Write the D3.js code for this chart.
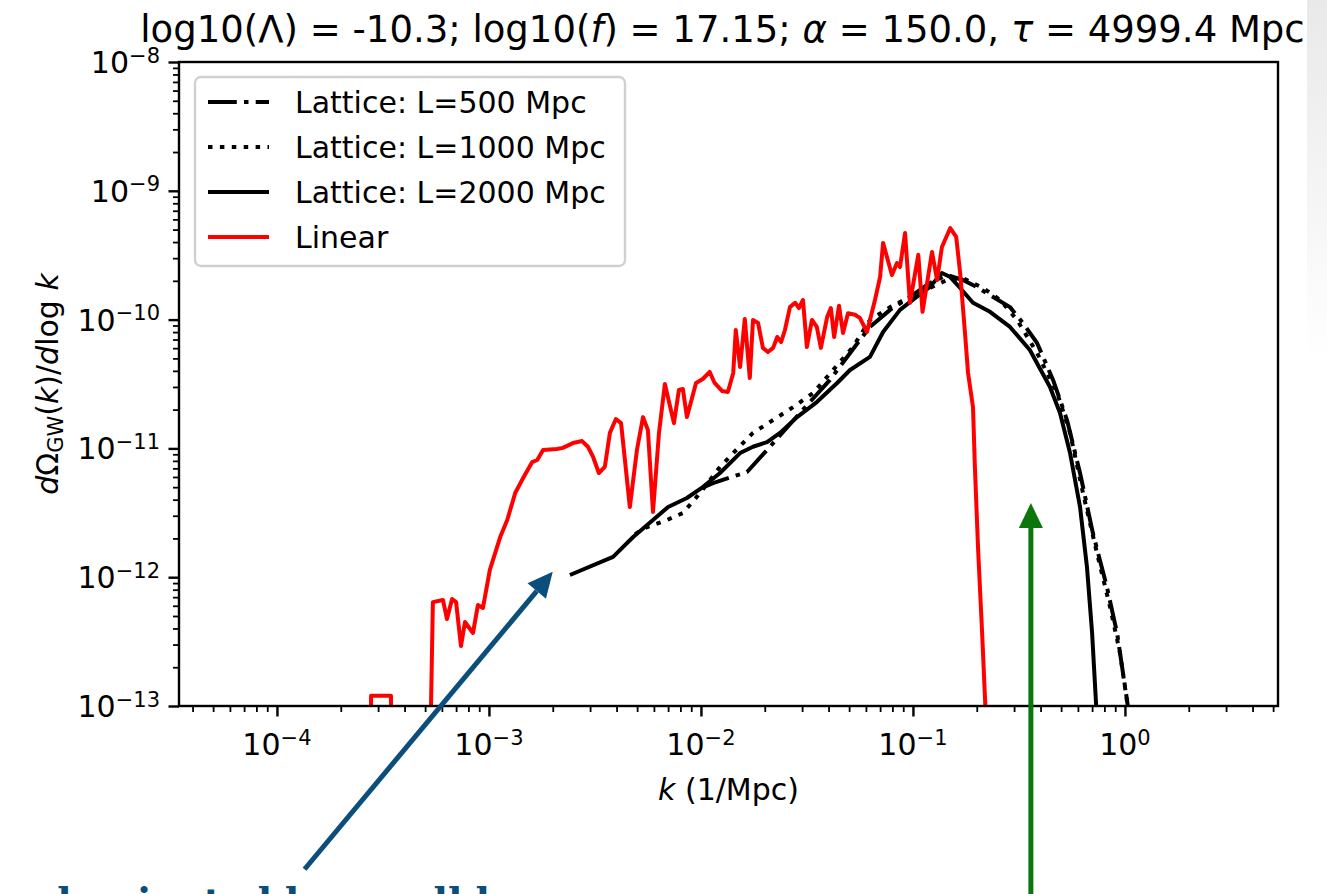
<!DOCTYPE html>
<html>
<head>
<meta charset="utf-8">
<script src="https://cdn.jsdelivr.net/npm/d3@7"></script>
<style>
  body { margin: 0; background: #fff; }
  svg { display: block; }
  text { font-family: "DejaVu Sans", sans-serif; fill: #000; }
</style>
</head>
<body>
<script>
// values: k in 1/Mpc, dOmega_GW/dlog k
var linearK = [2.72e-4, 2.78e-4, 3.45e-4, 3.52e-4, 4.94e-4, 5.44e-4, 6.07e-4, 6.34e-4, 6.70e-4, 7.0e-4,
  7.38e-4, 7.71e-4, 8.41e-4, 8.87e-4, 9.37e-4, 1.01e-3, 1.13e-3, 1.22e-3, 1.33e-3, 1.45e-3,
  1.60e-3, 1.69e-3, 1.80e-3, 2.09e-3, 2.23e-3, 2.49e-3, 2.75e-3, 2.93e-3, 3.10e-3, 3.30e-3,
  3.52e-3, 3.72e-3, 3.97e-3, 4.20e-3, 4.62e-3, 4.99e-3, 5.33e-3, 5.62e-3, 5.94e-3, 6.34e-3,
  6.76e-3, 7.46e-3, 7.87e-3, 8.22e-3, 8.59e-3, 9.48e-3, 1.02e-2, 1.10e-2, 1.16e-2, 1.26e-2,
  1.34e-2, 1.42e-2, 1.46e-2, 1.53e-2, 1.61e-2, 1.70e-2, 1.76e-2, 1.86e-2, 1.96e-2, 2.07e-2,
  2.19e-2, 2.29e-2, 2.39e-2, 2.49e-2, 2.63e-2, 2.78e-2, 2.90e-2, 3.03e-2, 3.16e-2, 3.34e-2,
  3.52e-2, 3.68e-2, 3.94e-2, 4.10e-2, 4.25e-2, 4.48e-2, 4.68e-2, 4.94e-2, 5.33e-2, 5.62e-2,
  6.07e-2, 6.62e-2, 7.0e-2, 7.23e-2, 7.96e-2, 8.41e-2, 8.69e-2, 9.18e-2, 9.68e-2, 0.106,
  0.111, 0.123, 0.130, 0.137, 0.150, 0.160, 0.167, 0.176, 0.182, 0.192,
  0.196, 0.203, 0.212, 0.221]
var linearOmega = [1e-16, 1.2e-13, 1.2e-13, 1e-16, 1e-16, 6.4e-13, 6.65e-13, 4.73e-13, 6.78e-13, 6.4e-13,
  2.92e-13, 4.49e-13, 3.69e-13, 6.08e-13, 5.77e-13, 1.14e-12, 2.05e-12, 2.78e-12, 4.51e-12, 5.89e-12,
  7.83e-12, 8.13e-12, 9.72e-12, 9.9e-12, 1.01e-11, 1.10e-11, 1.14e-11, 1.03e-11, 8.58e-12, 6.44e-12,
  7.18e-12, 1.32e-11, 1.69e-11, 1.57e-11, 3.51e-12, 9.72e-12, 1.75e-11, 1.39e-11, 3.21e-12, 1.32e-11,
  3.16e-11, 1.57e-11, 2.84e-11, 2.89e-11, 1.75e-11, 3.22e-11, 3.46e-11, 3.92e-11, 3.22e-11, 2.79e-11,
  2.74e-11, 3.85e-11, 8.3e-11, 4.28e-11, 1.01e-10, 3.52e-11, 9.93e-11, 9.42e-11, 6.03e-11, 5.6e-11,
  6.03e-11, 7.33e-11, 6.7e-11, 8.3e-11, 1.25e-10, 1.35e-10, 1.23e-10, 1.42e-10, 6.13e-11, 9.93e-11,
  8.77e-11, 6.03e-11, 1.05e-10, 1.23e-10, 7.33e-11, 1.28e-10, 7.87e-11, 1.12e-10, 1.09e-10, 1.03e-10,
  8.01e-11, 1.42e-10, 2.14e-10, 3.94e-10, 2.22e-10, 2.75e-10, 2.56e-10, 4.7e-10, 1.35e-10, 3.18e-10,
  1.15e-10, 3.35e-10, 2.03e-10, 3.66e-10, 5.14e-10, 4.38e-10, 2.30e-10, 7.87e-11, 3.85e-11, 2.09e-11,
  7.18e-12, 1.63e-12, 3.69e-13, 7.8e-14]

var l2000K = [2.41e-3, 3.85e-3, 4.79e-3, 5.94e-3, 7.0e-3, 8.59e-3, 1.02e-2, 1.23e-2, 1.53e-2, 1.76e-2,
  2.05e-2, 2.36e-2, 2.84e-2, 3.52e-2, 4.39e-2, 5.05e-2, 6.27e-2, 7.23e-2, 8.69e-2, 0.104,
  0.120, 0.137, 0.150, 0.167, 0.192, 0.231, 0.287, 0.356, 0.443, 0.494,
  0.551, 0.614, 0.662, 0.700, 0.738]
var l2000Omega = [1.04e-12, 1.44e-12, 2.05e-12, 2.78e-12, 3.51e-12, 4.12e-12, 5.01e-12, 6.44e-12, 9.2e-12, 1.03e-11,
  1.12e-11, 1.32e-11, 1.75e-11, 2.29e-11, 3.22e-11, 4.06e-11, 5.13e-11, 8.01e-11, 1.19e-10, 1.5e-10,
  1.79e-10, 2.30e-10, 2.14e-10, 1.76e-10, 1.35e-10, 1.15e-10, 8.77e-11, 5.81e-11, 3.0e-11, 1.88e-11,
  9.2e-12, 3.51e-12, 1.2e-12, 3.69e-13, 7.8e-14]

var l1000K = [4.89e-3, 5.57e-3, 6.92e-3, 8.22e-3, 9.91e-3, 1.23e-2, 1.42e-2, 1.76e-2, 2.19e-2, 2.72e-2,
  3.38e-2, 4.20e-2, 5.21e-2, 6.27e-2, 7.80e-2, 9.68e-2, 0.120, 0.145, 0.172, 0.214,
  0.258, 0.310, 0.385, 0.479, 0.551, 0.634, 0.738, 0.851, 0.948, 1.045]
var l1000Omega = [2.16e-12, 2.45e-12, 2.78e-12, 3.15e-12, 4.51e-12, 7.18e-12, 9.2e-12, 1.32e-11, 1.66e-11, 2.09e-11,
  2.69e-11, 4.06e-11, 6.13e-11, 9.93e-11, 1.25e-10, 1.5e-10, 1.76e-10, 2.03e-10, 2.10e-10, 1.76e-10,
  1.42e-10, 9.93e-11, 5.51e-11, 2.69e-11, 1.32e-11, 4.51e-12, 1.54e-12, 5.87e-13, 2.58e-13, 8.5e-14]

var l500K = [1.01e-2, 1.14e-2, 1.65e-2, 2.05e-2, 2.93e-2, 4.06e-2, 5.62e-2, 6.27e-2, 7.80e-2, 9.68e-2,
  0.120, 0.145, 0.172, 0.200, 0.239, 0.287, 0.330, 0.385, 0.458, 0.533,
  0.614, 0.706, 0.822, 0.918, 1.023, 1.045]
var l500Omega = [4.93e-12, 5.38e-12, 6.56e-12, 9.72e-12, 1.88e-11, 3.40e-11, 6.95e-11, 8.77e-11, 1.19e-10, 1.5e-10,
  1.92e-10, 2.22e-10, 2.03e-10, 1.79e-10, 1.5e-10, 1.25e-10, 9.42e-11, 6.58e-11, 3.4e-11, 1.66e-11,
  6.44e-12, 2.2e-12, 8.4e-13, 3.69e-13, 1.11e-13, 8.5e-14]

var seriesNames = ["Lattice: L=500 Mpc", "Lattice: L=1000 Mpc", "Lattice: L=2000 Mpc", "Linear"]
var xTickExps = [-4, -3, -2, -1, 0]
var yTickExps = [-8, -9, -10, -11, -12, -13]

// arrows drawn on top of the figure, in data units [k, omega]
var blueArrow = [[1.35e-4, 5.4e-15], [2.0e-3, 1.1e-12]]
var greenArrow = [[0.36, 1e-15], [0.36, 3.77e-12]]

var W = 1327, H = 894
var margin = {top: 62, right: 49, bottom: 188, left: 179}

var svg = d3.select("body").append("svg")
  .attr("width", W)
  .attr("height", H)

var defs = svg.append("defs")
var grad = defs.append("linearGradient").attr("id", "panelFade")
  .attr("x1", 0).attr("y1", 0).attr("x2", 0).attr("y2", 1)
grad.append("stop").attr("offset", "0%").attr("stop-color", "#e9e9e9")
grad.append("stop").attr("offset", "100%").attr("stop-color", "#ffffff")

// faint grey slide panel on the right edge
svg.append("rect")
  .attr("x", 1307).attr("y", 0)
  .attr("width", 20).attr("height", 360)
  .attr("fill", "url(#panelFade)")

var x = d3.scaleLog()
  .domain([Math.pow(10, -4.462), Math.pow(10, 0.722)])
  .range([margin.left, W - margin.right])

var y = d3.scaleLog()
  .domain([1e-13, 1e-8])
  .range([H - margin.bottom, margin.top])

defs.append("clipPath").attr("id", "plotClip")
  .append("rect")
  .attr("x", margin.left).attr("y", margin.top)
  .attr("width", W - margin.right - margin.left)
  .attr("height", H - margin.bottom - margin.top)

// minor ticks for a log axis
function minors(lo, hi) {
  var out = []
  for (var e = lo; e <= hi; e++) {
    for (var m = 2; m <= 9; m++) {
      var v = m * Math.pow(10, e)
      out.push(v)
    }
  }
  return out
}

var xMin = x.domain()[0], xMax = x.domain()[1]
var xMinor = minors(-5, 0).filter(function(v) { return v > xMin && v < xMax })
var yMinor = minors(-13, -9)

svg.append("g")
  .attr("transform", "translate(0," + (H - margin.bottom) + ")")
  .call(d3.axisBottom(x).tickValues(xMinor).tickSize(6).tickFormat(""))
  .call(function(g) { g.select(".domain").remove() })
  .selectAll("line").attr("stroke-width", 1.8)

svg.append("g")
  .attr("transform", "translate(" + margin.left + ",0)")
  .call(d3.axisLeft(y).tickValues(yMinor).tickSize(6).tickFormat(""))
  .call(function(g) { g.select(".domain").remove() })
  .selectAll("line").attr("stroke-width", 1.8)

var xAxis = svg.append("g")
  .attr("transform", "translate(0," + (H - margin.bottom) + ")")
  .call(d3.axisBottom(x).tickValues(xTickExps.map(function(e) { return Math.pow(10, e) })).tickSize(10.5).tickFormat(""))
xAxis.select(".domain").remove()
xAxis.selectAll("line").attr("stroke-width", 2.4)

var yAxis = svg.append("g")
  .attr("transform", "translate(" + margin.left + ",0)")
  .call(d3.axisLeft(y).tickValues(yTickExps.map(function(e) { return Math.pow(10, e) })).tickSize(10.5).tickFormat(""))
yAxis.select(".domain").remove()
yAxis.selectAll("line").attr("stroke-width", 2.4)

function powerLabel(t, e) {
  t.append("tspan").text("10")
  t.append("tspan")
    .attr("dy", "-0.5em")
    .attr("font-size", "21px")
    .text(e < 0 ? "\u2212" + (-e) : "" + e)
}

xTickExps.forEach(function(e) {
  var t = svg.append("text")
    .attr("x", x(Math.pow(10, e)))
    .attr("y", H - margin.bottom + 49)
    .attr("text-anchor", "middle")
    .attr("font-size", "30px")
  powerLabel(t, e)
})

yTickExps.forEach(function(e) {
  var t = svg.append("text")
    .attr("x", margin.left - 19)
    .attr("y", y(Math.pow(10, e)) + 11)
    .attr("text-anchor", "end")
    .attr("font-size", "30px")
  powerLabel(t, e)
})

// curves
var line = d3.line()
  .x(function(d) { return x(d[0]) })
  .y(function(d) { return y(d[1]) })

function pairs(ks, vals) {
  return ks.map(function(k, i) { return [k, vals[i]] })
}

var series = [
  {name: seriesNames[0], data: pairs(l500K, l500Omega), color: "#000", dash: "28.8,7.2,4.5,7.2"},
  {name: seriesNames[1], data: pairs(l1000K, l1000Omega), color: "#000", dash: "4.5,7.4"},
  {name: seriesNames[2], data: pairs(l2000K, l2000Omega), color: "#000", dash: null},
  {name: seriesNames[3], data: pairs(linearK, linearOmega), color: "#ff0000", dash: null}
]

var plot = svg.append("g").attr("clip-path", "url(#plotClip)")

plot.selectAll(".curve")
  .data(series)
  .enter().append("path")
  .attr("class", "curve")
  .attr("d", function(d) { return line(d.data) })
  .attr("fill", "none")
  .attr("stroke", function(d) { return d.color })
  .attr("stroke-width", 4)
  .attr("stroke-linejoin", "round")
  .attr("stroke-dasharray", function(d) { return d.dash })

// frame
svg.append("rect")
  .attr("x", margin.left).attr("y", margin.top)
  .attr("width", W - margin.right - margin.left)
  .attr("height", H - margin.bottom - margin.top)
  .attr("fill", "none")
  .attr("stroke", "#000")
  .attr("stroke-width", 2.4)

// legend
var legend = svg.append("g").attr("transform", "translate(195,77)")
legend.append("rect")
  .attr("width", 430).attr("height", 189)
  .attr("rx", 6)
  .attr("fill", "#fff").attr("fill-opacity", 0.8)
  .attr("stroke", "#d0d0d0").attr("stroke-width", 2.4)

var rows = legend.selectAll(".row")
  .data(series)
  .enter().append("g")
  .attr("class", "row")
  .attr("transform", function(d, i) { return "translate(0," + (25 + i * 45) + ")" })

rows.append("line")
  .attr("x1", 13).attr("x2", 74)
  .attr("stroke", function(d) { return d.color })
  .attr("stroke-width", 4)
  .attr("stroke-dasharray", function(d) { return d.dash })

rows.append("text")
  .attr("x", 100).attr("y", 11)
  .attr("font-size", "30px")
  .text(function(d) { return d.name })

// title
var title = svg.append("text")
  .attr("x", (margin.left + W - margin.right) / 2 - 6)
  .attr("y", 42)
  .attr("text-anchor", "middle")
  .attr("font-size", "37px")
title.append("tspan").text("log10(\u039b) = -10.3; log10(")
title.append("tspan").attr("font-style", "italic").text("f")
title.append("tspan").text(") = 17.15; ")
title.append("tspan").attr("font-style", "italic").text("\u03b1")
title.append("tspan").text(" = 150.0, ")
title.append("tspan").attr("font-style", "italic").text("\u03c4")
title.append("tspan").text(" = 4999.4 Mpc")

// axis labels
var xl = svg.append("text")
  .attr("x", (margin.left + W - margin.right) / 2)
  .attr("y", 800)
  .attr("text-anchor", "middle")
  .attr("font-size", "30px")
xl.append("tspan").attr("font-style", "italic").text("k")
xl.append("tspan").text(" (1/Mpc)")

var yl = svg.append("text")
  .attr("transform", "translate(58," + ((margin.top + H - margin.bottom) / 2) + ") rotate(-90)")
  .attr("text-anchor", "middle")
  .attr("font-size", "30px")
yl.append("tspan").attr("font-style", "italic").text("d")
yl.append("tspan").text("\u03a9")
yl.append("tspan").attr("font-size", "21px").attr("dy", "0.25em").text("GW")
yl.append("tspan").attr("dy", "-0.175em").text("(")
yl.append("tspan").attr("font-style", "italic").text("k")
yl.append("tspan").text(")/")
yl.append("tspan").attr("font-style", "italic").text("d")
yl.append("tspan").text("log ")
yl.append("tspan").attr("font-style", "italic").text("k")

// annotation arrows
function arrow(pts, color) {
  var a = [x(pts[0][0]), y(pts[0][1])]
  var b = [x(pts[1][0]), y(pts[1][1])]
  var ang = Math.atan2(b[1] - a[1], b[0] - a[0])
  var len = 25, half = 12
  var base = [b[0] - len * Math.cos(ang), b[1] - len * Math.sin(ang)]
  svg.append("line")
    .attr("x1", a[0]).attr("y1", a[1])
    .attr("x2", base[0]).attr("y2", base[1])
    .attr("stroke", color).attr("stroke-width", 5)
  var p1 = [base[0] + half * Math.sin(ang), base[1] - half * Math.cos(ang)]
  var p2 = [base[0] - half * Math.sin(ang), base[1] + half * Math.cos(ang)]
  svg.append("path")
    .attr("d", "M" + b + "L" + p1 + "L" + p2 + "Z")
    .attr("fill", color)
}
arrow(blueArrow, "#0b4d7b")
arrow(greenArrow, "#0c760c")

// caption cut by the bottom edge, as in the slide
svg.append("text")
  .attr("x", 45).attr("y", 915)
  .style("font-family", "'DejaVu Serif', 'Liberation Serif', serif")
  .style("font-weight", "bold")
  .style("font-size", "38px")
  .style("fill", "#0b4d7b")
  .text("dominated by small k")
</script>
</body>
</html>
